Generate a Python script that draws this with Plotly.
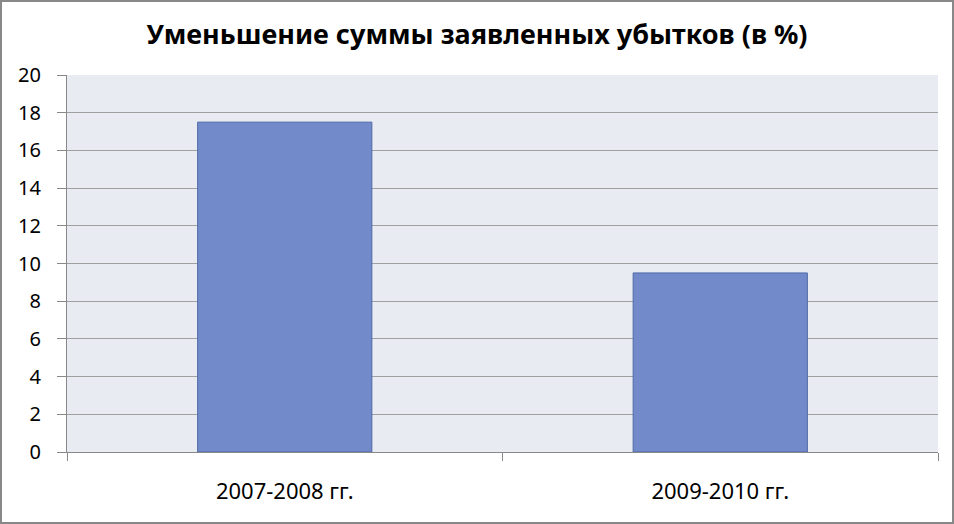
import plotly.graph_objects as go

categories = ["2007-2008 гг.", "2009-2010 гг."]
values = [17.5, 9.5]
y_ticks = [0, 2, 4, 6, 8, 10, 12, 14, 16, 18, 20]
title_text = "Уменьшение суммы заявленных убытков (в %)"

W, H = 954, 524
ml, mr, mt, mb = 67, 16, 75, 72
pw, ph = W - ml - mr, H - mt - mb

fig = go.Figure(go.Bar(
    x=categories, y=values,
    marker=dict(color="#728ACA", line=dict(color="#4F68A6", width=1)),
    width=0.4,
))

fig.update_layout(
    width=W, height=H,
    margin=dict(l=ml, r=mr, t=mt, b=mb),
    paper_bgcolor="white",
    plot_bgcolor="#E9EBF3",
    showlegend=False,
    title=dict(text=title_text, x=0.5, xanchor="center", y=1 - 35 / H, yanchor="middle",
               font=dict(family="Noto Sans", size=27, color="black", weight="bold")),
    font=dict(family="Noto Sans", color="black"),
)
fig.update_xaxes(
    range=[-0.5, 1.5], tickson="boundaries", ticks="outside", ticklen=8,
    tickcolor="#888888", showline=True, linecolor="#888888", linewidth=1,
    showgrid=False, tickfont=dict(size=22, family="Noto Sans"), ticklabelstandoff=20,
)
fig.update_yaxes(
    range=[0, 20], tickvals=y_ticks, ticks="outside", ticklen=9,
    tickcolor="#888888", showline=True, linecolor="#888888", linewidth=1,
    showgrid=True, gridcolor="#A0A0A0", gridwidth=1, zeroline=False,
    tickfont=dict(size=20, family="Noto Sans"), ticklabelstandoff=12,
)
fig.add_shape(type="rect", xref="paper", yref="paper",
              x0=-(ml - 1) / pw, x1=1 + (mr - 1) / pw,
              y0=-(mb - 1) / ph, y1=1 + (mt - 1) / ph,
              line=dict(color="#888888", width=2), layer="below")

fig.write_html("out.html", config={"displayModeBar": False},
               post_script="document.body.style.margin='0';")
